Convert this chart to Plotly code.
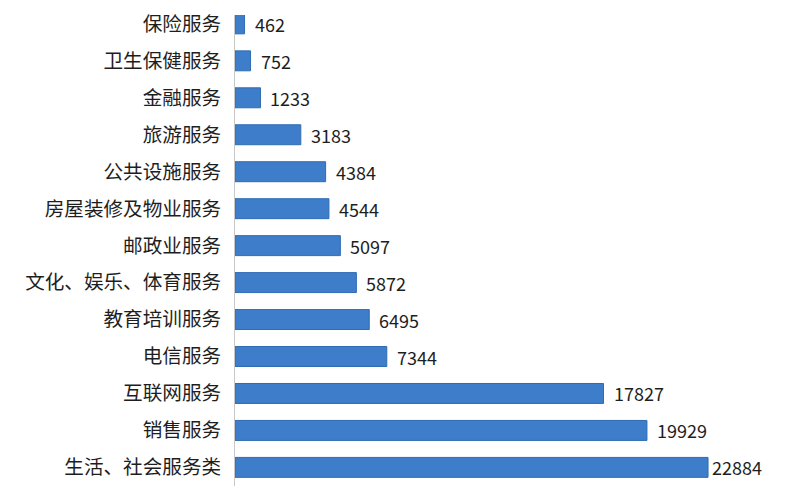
import plotly.graph_objects as go

categories = [
    "保险服务", "卫生保健服务", "金融服务", "旅游服务", "公共设施服务",
    "房屋装修及物业服务", "邮政业服务", "文化、娱乐、体育服务", "教育培训服务",
    "电信服务", "互联网服务", "销售服务", "生活、社会服务类",
]
counts = [462, 752, 1233, 3183, 4384, 4544, 5097, 5872, 6495, 7344, 17827, 19929, 22884]

FONT = "Noto Sans CJK SC, Microsoft YaHei, sans-serif"

fig = go.Figure()
fig.add_trace(
    go.Bar(
        x=counts,
        y=categories,
        orientation="h",
        marker=dict(color="#3d7dca", line=dict(color="#2f6cb4", width=1)),
        width=0.54,
    )
)

# value labels just right of each bar
for cat, val in zip(categories, counts):
    fig.add_annotation(
        x=val, y=cat, text=str(val), showarrow=False,
        xanchor="left", xshift=2 if val == max(counts) else 8,
        font=dict(family=FONT, size=18, color="#1e1e1e"),
    )

# page body has an 8px margin, so the figure is shifted to compensate
fig.update_layout(
    width=800,
    height=486,
    margin=dict(l=227, r=0, t=0, b=0),
    plot_bgcolor="white",
    paper_bgcolor="white",
    showlegend=False,
)
fig.update_xaxes(range=[0, 27720], visible=False)
fig.update_yaxes(
    range=[12.72, -0.24],
    showline=True,
    linecolor="#c8c8c8",
    linewidth=1,
    ticks="",
    ticklabelstandoff=9,
    tickfont=dict(family=FONT, size=19.6, color="#1e1e1e"),
)

fig.write_html("out.html")
